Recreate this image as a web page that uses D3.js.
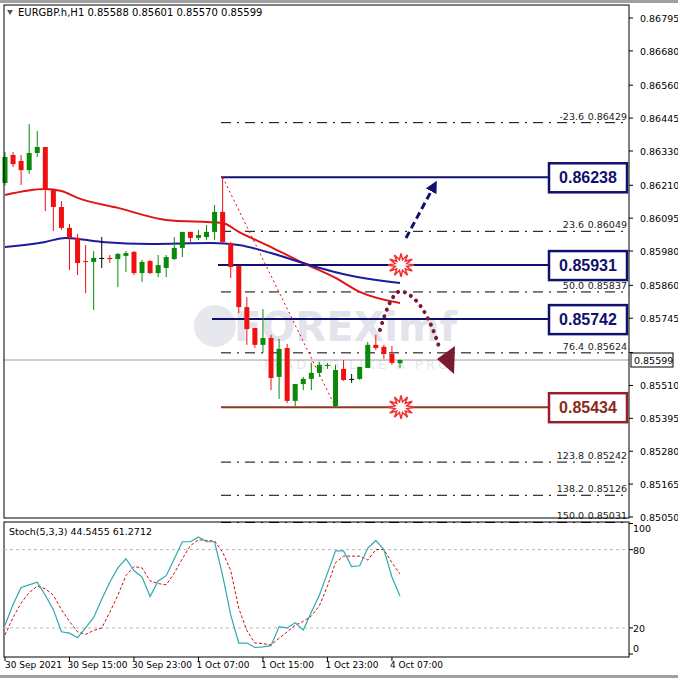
<!DOCTYPE html>
<html><head><meta charset="utf-8">
<script src="https://cdn.jsdelivr.net/npm/d3@7"></script>
<style>body{margin:0;background:#fff}svg{display:block;font-family:Tahoma,"DejaVu Sans",sans-serif}</style>
</head><body><svg id="c" width="678" height="678"></svg>
<script>
const opens=[0.86218,0.86316,0.86295,0.86263,0.86323,0.86344,0.86194,0.86134,0.86061,0.86026,0.85945,0.85942,0.85956,0.85956,0.85952,0.85963,0.85977,0.85903,0.85945,0.85903,0.85921,0.85952,0.85991,0.86047,0.86026,0.86029,0.86047,0.86117,0.86008,0.85928,0.85784,0.85711,0.85652,0.85676,0.85540,0.85641,0.85456,0.85515,0.85533,0.85554,0.85578,0.85438,0.85568,0.85533,0.85533,0.85571,0.85652,0.85645,0.85620,0.85588];
const highs=[0.86326,0.86326,0.86316,0.86424,0.86400,0.86344,0.86194,0.86155,0.86075,0.86040,0.86001,0.85980,0.86029,0.85966,0.85973,0.85980,0.85980,0.85949,0.85949,0.85966,0.85966,0.86029,0.86047,0.86047,0.86054,0.86071,0.86141,0.86239,0.86012,0.85928,0.85819,0.85711,0.85777,0.85687,0.85673,0.85655,0.85515,0.85540,0.85589,0.85592,0.85589,0.85582,0.85599,0.85550,0.85575,0.85662,0.85687,0.85652,0.85648,0.85601];
const lows=[0.86208,0.86274,0.86211,0.86250,0.86309,0.86120,0.86050,0.86054,0.85914,0.85896,0.85833,0.85774,0.85921,0.85938,0.85854,0.85907,0.85896,0.85872,0.85900,0.85889,0.85889,0.85949,0.85959,0.86012,0.86019,0.86019,0.86019,0.86008,0.85886,0.85763,0.85652,0.85641,0.85624,0.85494,0.85463,0.85449,0.85438,0.85494,0.85494,0.85540,0.85568,0.85435,0.85526,0.85519,0.85529,0.85571,0.85634,0.85603,0.85582,0.85570];
const closes=[0.86309,0.86284,0.86263,0.86323,0.86344,0.86194,0.86134,0.86061,0.86026,0.85938,0.85942,0.85956,0.85956,0.85952,0.85970,0.85973,0.85903,0.85942,0.85903,0.85931,0.85959,0.85991,0.86047,0.86026,0.86036,0.86047,0.86117,0.86012,0.85924,0.85784,0.85707,0.85652,0.85676,0.85536,0.85638,0.85456,0.85515,0.85533,0.85554,0.85582,0.85582,0.85564,0.85529,0.85533,0.85575,0.85652,0.85641,0.85620,0.85589,0.85599];
const maRedIdx=[0,5,7,9,14,20,27,29,33,37,41,44,49];
const maRed=[0.86176,0.86197,0.86190,0.86166,0.86131,0.86089,0.86078,0.86047,0.85994,0.85938,0.85886,0.85837,0.85798];
const maBlueIdx=[0,5,7.5,12,18,25.6,29,33,37,42.5,49];
const maBlue=[0.85994,0.86012,0.86026,0.86012,0.86005,0.86008,0.86001,0.85973,0.85938,0.85896,0.85868];
const stochK=[22,38,51,53,55,45,34,17,16,12.5,20,28,42,55,66,73,64,59,44,56,60,73,86,86,89.7,86,86,60,30,8.4,8.4,5,5.5,6.4,21,20,24,18.4,32,45,62,79,79,67,67.6,81,87,80,59,44.5];
const stochD=[14.6,28,39,47,52,50,45,34,25,17,15,18,20,32,45,60,67,66,56,54,53,62,73,83,87.5,87,86.6,78,64,35,18,8.4,8,7,12,17,22,25,29,37,52,70,75,75,75,72,80,80,70,61.3];
const priceTicks=[0.86795,0.86680,0.86560,0.86445,0.86330,0.86210,0.86095,0.85980,0.85860,0.85745,0.85625,0.85510,0.85395,0.85280,0.85165,0.85050];
const timeIdx=[0,8,16,24,32,40,48];
const timeLabels=["30 Sep 2021","30 Sep 15:00","30 Sep 23:00","1 Oct 07:00","1 Oct 15:00","1 Oct 23:00","4 Oct 07:00"];
const fibLevels=[-23.6,23.6,50.0,76.4,123.8,138.2,150.0];
const fibPrices=[0.86429,0.86049,0.85837,0.85624,0.85242,0.85126,0.85031];
const levelPrices=[0.86238,0.85931,0.85742,0.85434];
const stochTicks=[100,80,20,0];
const current=0.85599;

const svg=d3.select("#c");
const L=4,R=629,T=5,B=518,ST=522,SB=657;
const x=d3.scaleLinear().domain([0,49]).range([5,400]);
const y=d3.scaleLinear().domain([0.85050,0.86795]).range([517,18]);
const ys=d3.scaleLinear().domain([0,100]).range([654,523.5]);

svg.append("rect").attr("x",0).attr("y",0).attr("width",678).attr("height",678).attr("fill","#fff");
svg.append("rect").attr("x",0).attr("y",0).attr("width",678).attr("height",3).attr("fill","#a0a0a0");
svg.append("rect").attr("x",0).attr("y",675).attr("width",678).attr("height",3).attr("fill","#a0a0a0");

// watermark
svg.append("circle").attr("cx",215).attr("cy",326).attr("r",21).attr("fill","#c8cbd8").attr("opacity",0.45);
svg.append("text").attr("x",234).attr("y",341).attr("font-size",40).attr("font-weight","bold").attr("fill","#c8cbd8").attr("opacity",0.5).text("FOREXimf");
svg.append("text").attr("x",262).attr("y",369).attr("font-size",13).attr("letter-spacing",3).attr("fill","#d0d3de").attr("opacity",0.55).text("TRADING LIKE A PRO");

// fib dash-dot lines
fibPrices.forEach((p,i)=>{
  svg.append("line").attr("x1",221).attr("x2",R).attr("y1",y(p)).attr("y2",y(p)).attr("stroke","#000").attr("stroke-dasharray","10,6,2,6");
  svg.append("text").attr("x",R-2).attr("y",y(p)-3).attr("text-anchor","end").attr("font-size",9.5).attr("fill","#222").text(p.toFixed(5));
  svg.append("text").attr("x",R-45).attr("y",y(p)-3).attr("text-anchor","end").attr("font-size",9.5).attr("fill","#222").text(fibLevels[i].toFixed(1));
});
// current price line
svg.append("line").attr("x1",L).attr("x2",R).attr("y1",y(current)).attr("y2",y(current)).attr("stroke","#a0a0a8");

// level lines
const lvlStart=[221,218,212,221];
levelPrices.forEach((p,i)=>{
  svg.append("line").attr("x1",lvlStart[i]).attr("x2",548).attr("y1",y(p)).attr("y2",y(p))
   .attr("stroke",i==3?"#8b3a1a":"#10106e").attr("stroke-width",2);
});
svg.append("line").attr("x1",x(27)).attr("y1",y(0.86238)).attr("x2",x(41)).attr("y2",y(0.85434)).attr("stroke","#e00").attr("stroke-dasharray","2,3");

// MAs
const line=d3.line().x(d=>x(d[0])).y(d=>y(d[1])).curve(d3.curveMonotoneX);
svg.append("path").attr("d",line(maRedIdx.map((v,i)=>[v,maRed[i]]))).attr("fill","none").attr("stroke","#e01414").attr("stroke-width",2);
svg.append("path").attr("d",line(maBlueIdx.map((v,i)=>[v,maBlue[i]]))).attr("fill","none").attr("stroke","#1c1c9c").attr("stroke-width",2);

// candles
const col=i=>closes[i]>opens[i]?"#0a8a0a":(closes[i]<opens[i]?"#f01010":"#000");
opens.forEach((o,i)=>{
  const g=svg.append("g");
  g.append("line").attr("x1",x(i)).attr("x2",x(i)).attr("y1",y(highs[i])).attr("y2",y(lows[i])).attr("stroke",col(i));
  const t=Math.min(y(o),y(closes[i])),h=Math.max(1,Math.abs(y(o)-y(closes[i])));
  g.append("rect").attr("x",x(i)-2.5).attr("y",t).attr("width",5).attr("height",h).attr("fill",col(i));
});

function star(cx,cy){
  const pts=[];for(let k=0;k<24;k++){const r=k%2?6:13;const a=k*Math.PI/12;pts.push([cx+r*Math.cos(a),cy+r*Math.sin(a)*0.9]);}
  svg.append("polygon").attr("points",pts.map(p=>p.join(",")).join(" ")).attr("fill","#fff").attr("stroke","#f03030").attr("stroke-width",1.5);
}
star(401,y(0.85931));star(401,y(0.85434));

const defs=svg.append("defs");
defs.append("marker").attr("id","ah").attr("viewBox","0 0 10 10").attr("refX",5).attr("refY",5).attr("markerWidth",4).attr("markerHeight",4).attr("orient","auto")
 .append("path").attr("d","M0,0L10,5L0,10z").attr("fill","#10106e");
svg.append("line").attr("x1",406).attr("y1",238).attr("x2",434).attr("y2",186).attr("stroke","#10106e").attr("stroke-width",3).attr("stroke-dasharray","7,4").attr("marker-end","url(#ah)");
svg.append("path").attr("d","M380,330 Q393,285 404,292 Q425,300 440,350").attr("fill","none").attr("stroke","#7a1a30").attr("stroke-width",4).attr("stroke-dasharray","0.1,7").attr("stroke-linecap","round");
svg.append("polygon").attr("points","437,359 455,346 454,374").attr("fill","#7a1a30");

const boxCol=["#10106e","#10106e","#10106e","#9b1c2a"];
const txtCol=["#10106e","#10106e","#10106e","#8b2a1a"];
levelPrices.forEach((p,i)=>{
  svg.append("rect").attr("x",549).attr("y",y(p)-14).attr("width",78).attr("height",29).attr("fill","#fff").attr("stroke",boxCol[i]).attr("stroke-width",2.5);
  svg.append("text").attr("x",588).attr("y",y(p)+6).attr("text-anchor","middle").attr("font-size",16).attr("font-weight","bold").attr("font-family","Arial,Liberation Sans,sans-serif").attr("fill",txtCol[i]).text(p.toFixed(5));
});

svg.append("rect").attr("x",L).attr("y",T).attr("width",R-L).attr("height",B-T).attr("fill","none").attr("stroke","#000");
svg.append("rect").attr("x",L).attr("y",ST).attr("width",R-L).attr("height",SB-ST).attr("fill","none").attr("stroke","#000");

priceTicks.forEach(p=>{
  svg.append("line").attr("x1",R).attr("x2",R+4).attr("y1",y(p)).attr("y2",y(p)).attr("stroke","#000");
  if(Math.abs(y(p)-y(current))>12)
    svg.append("text").attr("x",640).attr("y",y(p)+4).attr("font-size",9.5).attr("fill","#000").text(p.toFixed(5));
});
svg.append("rect").attr("x",631).attr("y",y(current)-7).attr("width",42).attr("height",14).attr("fill","#fff").attr("stroke","#000");
svg.append("text").attr("x",634).attr("y",y(current)+4).attr("font-size",9.5).text(current.toFixed(5));

svg.append("polygon").attr("points","7,10 13,10 10,15").attr("fill","#555");
svg.append("text").attr("x",18).attr("y",16).attr("font-size",10).text("EURGBP.h,H1  0.85588 0.85601 0.85570 0.85599");

stochTicks.filter(v=>v==80||v==20).forEach(v=>{
  svg.append("line").attr("x1",L).attr("x2",R).attr("y1",ys(v)).attr("y2",ys(v)).attr("stroke","#bbb").attr("stroke-dasharray","3,3");
});
stochTicks.forEach(v=>{
  svg.append("line").attr("x1",R).attr("x2",R+4).attr("y1",ys(v)).attr("y2",ys(v)).attr("stroke","#000");
  const yy=v==100?ys(v)+8:(v==0?ys(v)-2:ys(v)+4);
  svg.append("text").attr("x",633).attr("y",yy).attr("font-size",9.5).text(v);
});
const sl=d3.line().x((d,i)=>x(i)).y(d=>ys(d));
svg.append("path").attr("d",sl(stochD)).attr("fill","none").attr("stroke","#d01010").attr("stroke-dasharray","3,2");
svg.append("path").attr("d",sl(stochK)).attr("fill","none").attr("stroke","#30a8b0").attr("stroke-width",1.2);
svg.append("text").attr("x",9).attr("y",535).attr("font-size",9.5).text("Stoch(5,3,3) 44.5455 61.2712");

timeIdx.forEach((t,i)=>{
  svg.append("line").attr("x1",x(t)).attr("x2",x(t)).attr("y1",SB).attr("y2",SB+4).attr("stroke","#000");
  svg.append("text").attr("x",x(t)+(i==0?0:-2)).attr("y",668).attr("font-size",9).text(timeLabels[i]);
});
</script></body></html>
